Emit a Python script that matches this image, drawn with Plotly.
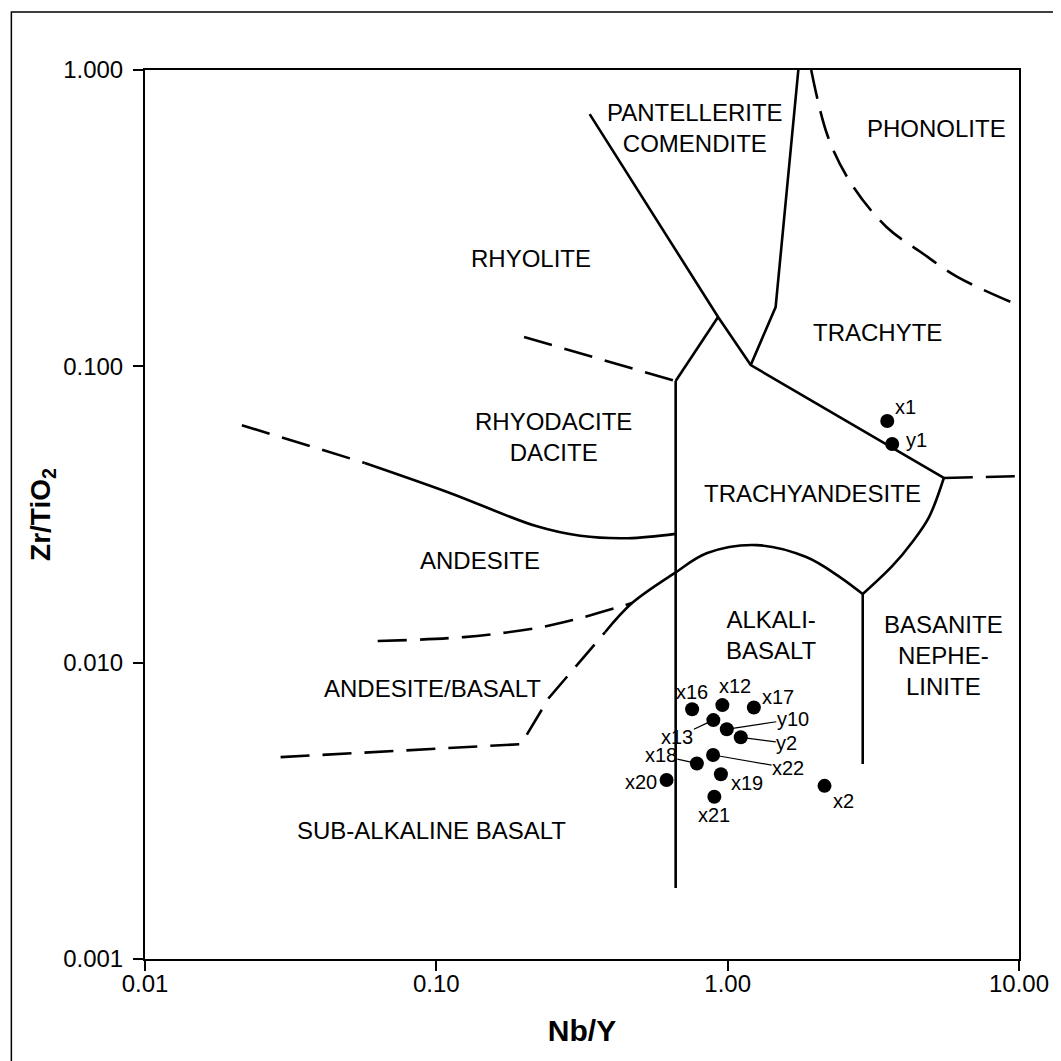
import math
import plotly.graph_objects as go

# ---------------- data ----------------
samples = ["x1", "y1", "x2", "x12", "x13", "x16", "x17", "x18", "x19", "x20", "x21", "x22", "y2", "y10"]
nb_y = [3.53, 3.67, 2.15, 0.959, 0.893, 0.755, 1.23, 0.784, 0.948, 0.617, 0.900, 0.891, 1.109, 0.993]
zr_tio2 = [0.0654, 0.0547, 0.00384, 0.00719, 0.00640, 0.00696, 0.00706, 0.00457, 0.00420, 0.00402,
           0.00353, 0.00488, 0.00560, 0.00596]
# label offsets in pixels (dx right, dy down) and whether a leader line is drawn
label_dx = [18, 24, 19, 13, -36, 0, 24, -36, 26, -26, 0, 75, 46, 66]
label_dy = [-14, -4, 15, -19, 17, -17, -10, -8, 9, 2, 18, 13, 6, -10]
label_leader = [False, False, False, False, True, False, False, True, False, False, False, True, True, True]

# field boundaries (solid)
pant_x = [0.336, 0.927, 1.20, 5.52]
pant_y = [0.710, 0.1467, 0.1010, 0.0420]
trach_x = [1.748, 1.461, 1.20]
trach_y = [1.0, 0.1585, 0.1010]
rhyd_x = [0.663, 0.927]
rhyd_y = [0.0892, 0.1467]
vert1_x = [0.663, 0.663]
vert1_y = [0.0892, 0.001735]
andes_x = [0.0568, 0.1113, 0.220, 0.312, 0.455, 0.663]
andes_y = [0.0472, 0.0374, 0.0289, 0.0268, 0.0263, 0.0272]
arc_x = [0.380, 0.4696, 0.6576, 0.851, 1.259, 1.861, 2.428, 2.908]
arc_y = [0.01269, 0.01589, 0.02006, 0.02344, 0.02493, 0.02272, 0.01945, 0.01704]
basan_x = [2.908, 3.676, 4.298, 4.911, 5.52]
basan_y = [0.01704, 0.0212, 0.0255, 0.0310, 0.0420]
vert2_x = [2.908, 2.908]
vert2_y = [0.01704, 0.00455]

# field boundaries (dashed)
drhy_x = [0.200, 0.663]
drhy_y = [0.1256, 0.0892]
dand_x = [0.0215, 0.0568]
dand_y = [0.0633, 0.0472]
dandbas_x = [0.0629, 0.1242, 0.220, 0.2937, 0.4696]
dandbas_y = [0.01183, 0.0122, 0.01308, 0.01392, 0.01589]
dsub_x = [0.0292, 0.1955, 0.2433, 0.3006, 0.380]
dsub_y = [0.0048, 0.00531, 0.0076, 0.00966, 0.01269]
dphon_x = [1.935, 2.211, 2.647, 3.508, 4.649, 6.163, 9.93]
dphon_y = [1.0, 0.594, 0.4156, 0.2953, 0.2412, 0.2001, 0.161]
dright_x = [5.52, 9.93]
dright_y = [0.0420, 0.0426]

# field names
field_names = ["PANTELLERITE<br>COMENDITE", "PHONOLITE", "RHYOLITE", "TRACHYTE", "RHYODACITE<br>DACITE",
               "TRACHYANDESITE", "ANDESITE", "ALKALI-<br>BASALT", "BASANITE<br>NEPHE-<br>LINITE",
               "ANDESITE/BASALT", "SUB-ALKALINE BASALT"]
field_x = [0.775, 5.23, 0.2114, 3.27, 0.253, 1.951, 0.1408, 1.416, 5.52, 0.0967, 0.0959]
field_y = [0.637, 0.637, 0.232, 0.1305, 0.0577, 0.0371, 0.0222, 0.01239, 0.0106, 0.00821, 0.00272]

x_ticks = [0.01, 0.1, 1, 10]
x_ticktext = ["0.01", "0.10", "1.00", "10.00"]
y_ticks = [0.001, 0.01, 0.1, 1]
y_ticktext = ["0.001", "0.010", "0.100", "1.000"]

FONT = "Liberation Sans, Arial, Helvetica, sans-serif"
LW = 2.6

fig = go.Figure()

solid = [(pant_x, pant_y, "linear"), (trach_x, trach_y, "linear"), (rhyd_x, rhyd_y, "linear"),
         (vert1_x, vert1_y, "linear"), (andes_x, andes_y, "spline"), (arc_x, arc_y, "spline"),
         (basan_x, basan_y, "spline"), (vert2_x, vert2_y, "linear")]
for xs, ys, shp in solid:
    fig.add_trace(go.Scatter(x=xs, y=ys, mode="lines", line=dict(color="black", width=LW, shape=shp),
                             hoverinfo="skip", showlegend=False))

dashed = [(drhy_x, drhy_y, "linear"), (dand_x, dand_y, "linear"), (dandbas_x, dandbas_y, "spline"),
          (dsub_x, dsub_y, "linear"), (dphon_x, dphon_y, "spline"), (dright_x, dright_y, "linear")]
for xs, ys, shp in dashed:
    fig.add_trace(go.Scatter(x=xs, y=ys, mode="lines",
                             line=dict(color="black", width=LW, shape=shp, dash="29px,13px"),
                             hoverinfo="skip", showlegend=False))

fig.add_trace(go.Scatter(x=nb_y, y=zr_tio2, mode="markers", text=samples,
                         marker=dict(color="black", size=14), showlegend=False))

for name, fx, fy in zip(field_names, field_x, field_y):
    fig.add_annotation(x=math.log10(fx), y=math.log10(fy), xref="x", yref="y", text=name, showarrow=False,
                       font=dict(family=FONT, size=24, color="black"), align="center")

for s, px, py, dx, dy, lead in zip(samples, nb_y, zr_tio2, label_dx, label_dy, label_leader):
    if lead:
        fig.add_annotation(x=math.log10(px), y=math.log10(py), xref="x", yref="y", text=s,
                           showarrow=True, arrowhead=0, arrowwidth=1.2, arrowcolor="black",
                           ax=dx, ay=dy, standoff=6, borderpad=0,
                           font=dict(family=FONT, size=20, color="black"))
    else:
        fig.add_annotation(x=math.log10(px), y=math.log10(py), xref="x", yref="y", text=s,
                           showarrow=False, xshift=dx, yshift=-dy,
                           font=dict(family=FONT, size=20, color="black"))

# outer frame
fig.add_shape(type="rect", xref="paper", yref="paper", x0=-0.1529, y0=-0.3, x1=1.3, y1=1.0652,
              line=dict(color="black", width=1.5), fillcolor="rgba(0,0,0,0)", layer="above")

fig.update_xaxes(type="log", range=[-2, 1], tickvals=x_ticks, ticktext=x_ticktext,
                 ticks="outside", ticklen=10, tickwidth=1.5, tickcolor="black",
                 showline=True, linecolor="black", linewidth=2.2, mirror=True, showgrid=False, zeroline=False,
                 tickfont=dict(family=FONT, size=24, color="black"), ticklabelstandoff=-8,
                 title=dict(text="<b>Nb/Y</b>", font=dict(family=FONT, size=30, color="black"), standoff=24))
fig.update_yaxes(type="log", range=[-3, 0], tickvals=y_ticks, ticktext=y_ticktext,
                 ticks="outside", ticklen=10, tickwidth=1.5, tickcolor="black",
                 showline=True, linecolor="black", linewidth=2, mirror=True, showgrid=False, zeroline=False,
                 tickfont=dict(family=FONT, size=24, color="black"), ticklabelstandoff=5,
                 title=dict(text="<b>Zr/TiO<sub>2</sub></b>", font=dict(family=FONT, size=28, color="black"),
                            standoff=4))

# the page adds an 8px body margin, so the figure is 1053 px and the margins are shifted by 8 px
fig.update_layout(width=1053, height=1053, margin=dict(l=137, r=33, t=62, b=102),
                  paper_bgcolor="white", plot_bgcolor="white", font=dict(family=FONT))

fig.write_html("out.html")
